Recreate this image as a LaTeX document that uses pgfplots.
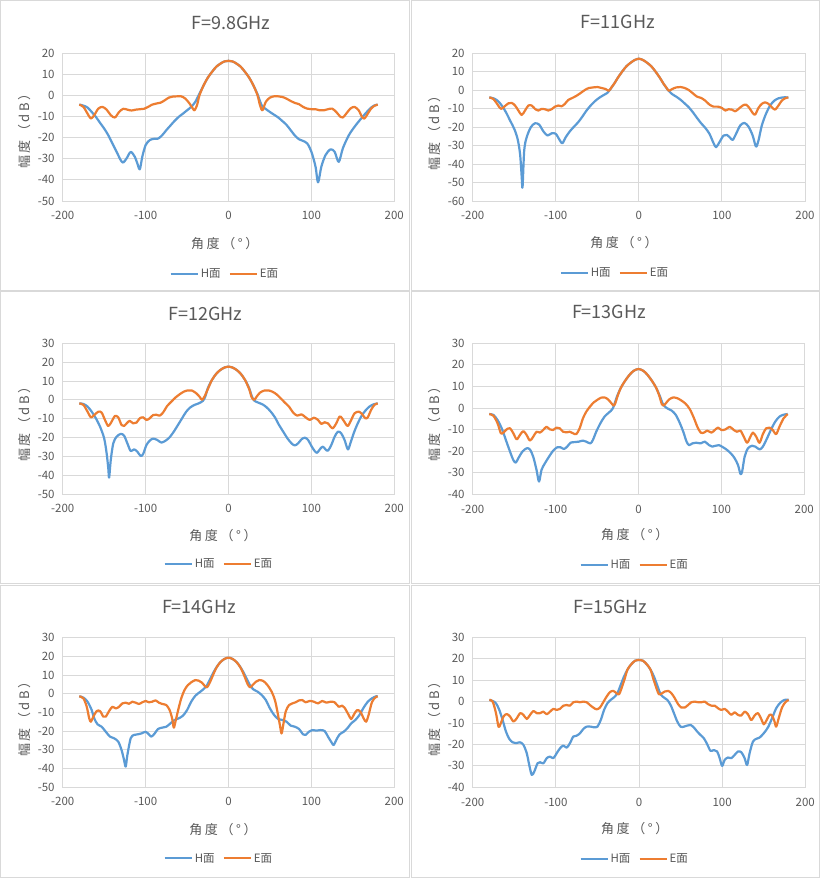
\documentclass[border=0pt]{standalone}
\usepackage{pgfplots}
\pgfplotsset{compat=1.18}
\usepackage{fontspec}
\setmainfont{Noto Sans CJK SC}
\newfontfamily\labfont[LetterSpace=20]{Noto Sans CJK SC}
\definecolor{hblue}{HTML}{5B9BD5}
\definecolor{eorange}{HTML}{ED7D31}
\definecolor{gridc}{HTML}{D9D9D9}
\definecolor{labc}{HTML}{595959}
\pgfplotsset{
 panel/.style={
  scale only axis, anchor=south west,
  xmin=-200, xmax=200, xtick={-200,-100,0,100,200},
  xticklabels={-200,-100,0,100,200},
  grid=major, major grid style={draw=gridc, line width=0.9pt},
  axis line style={draw=gridc, line width=0.9pt},
  major tick length=0pt,
  tick label style={font=\fontsize{11.5}{13}\selectfont, text=labc},
  xticklabel style={yshift=-7pt},
  yticklabel style={xshift=-4.6pt},
  legend columns=2,
  legend style={draw=none, fill=none, anchor=center, font=\fontsize{11.5}{13}\selectfont, text=labc,
    /tikz/every even column/.append style={column sep=6pt}},
  legend image code/.code={\draw[##1] (0pt,0pt) -- (27pt,0pt);},
  every axis plot/.append style={line width=2.2pt, line join=round, smooth, tension=0.5},
 },
 hs/.style={hblue}, es/.style={eorange},
}
\newcommand{\ttl}[2]{\node[font=\fontsize{18}{20}\selectfont, text=labc] at #1 {#2};}
\newcommand{\xlab}[1]{\node[font=\labfont\fontsize{13}{15}\selectfont, text=labc] at #1 {角度（°）};}
\newcommand{\ylab}[1]{\node[font=\labfont\fontsize{13}{15}\selectfont, text=labc, rotate=90] at #1 {幅度（dB）};}
\begin{document}
\begin{tikzpicture}
\path[use as bounding box, fill=white] (0pt,0pt) rectangle (821pt,879pt);
\begin{scope}[draw=gridc, line width=1pt]
\draw (0.5pt,588.5pt) rectangle (409.5pt,878.5pt);
\draw (411pt,588.5pt) rectangle (819.5pt,878.5pt);
\draw (0.5pt,295pt) rectangle (409.5pt,587pt);
\draw (411pt,295pt) rectangle (819.5pt,587pt);
\draw (0.5pt,1pt) rectangle (409.5pt,293pt);
\draw (411pt,1pt) rectangle (819.5pt,293pt);
\end{scope}
% ---------- Panel 1
\begin{axis}[panel, at={(62.7pt,678pt)}, width=331.6pt, height=148pt,
  ymin=-50, ymax=20, ytick={-50,-40,-30,-20,-10,0,10,20},
  yticklabels={-50,-40,-30,-20,-10,0,10,20},
  legend style={at={(0.489,-0.493)}}]
\addplot[hs] coordinates {(-180,-4.4)(-175,-4.9)(-170,-5.8)(-165,-7.9)(-160,-10.2)(-155,-13)(-150,-15.7)(-145,-18.9)(-140,-22.8)(-135,-26.7)(-130,-30.7)(-127,-31.8)(-123,-29.9)(-118,-26.8)(-113,-29.1)(-110,-32.2)(-107,-35)(-104,-29.1)(-100,-23.6)(-95,-21.2)(-90,-20.6)(-85,-20.5)(-80,-18.9)(-75,-16.5)(-70,-14.3)(-65,-12.1)(-60,-10.2)(-55,-8.7)(-50,-7.1)(-45,-5.5)(-40,-3.1)(-35,0.8)(-30,4.7)(-25,8.3)(-20,11)(-15,13.4)(-10,14.9)(-5,16)(0,16.3)(5,16)(10,14.9)(15,13.4)(20,11)(25,8.3)(30,4.7)(35,0.5)(40,-4.7)(45,-6.5)(50,-7.9)(55,-9.2)(60,-10.5)(65,-12.2)(70,-14)(75,-16.5)(80,-19)(85,-20.8)(90,-21.6)(95,-22.8)(100,-26.7)(105,-33.8)(108,-41.2)(112,-33.8)(117,-28.3)(123,-25.6)(128,-26.7)(133,-31.5)(138,-25)(145,-19)(150,-16)(155,-13.4)(160,-11)(165,-8.7)(172,-5.8)(176,-4.8)(180,-4.4)};
\addplot[es] coordinates {(-180,-4.4)(-175,-5.5)(-170,-8.7)(-166,-11)(-162,-9.4)(-157,-6.3)(-152,-5.5)(-147,-6.8)(-142,-9.4)(-137,-10.5)(-132,-7.9)(-127,-6.4)(-122,-6.8)(-117,-7.2)(-112,-6.8)(-107,-6.6)(-102,-6.4)(-97,-5.5)(-92,-4.4)(-87,-3.9)(-82,-3.5)(-77,-2.4)(-72,-1.1)(-67,-0.6)(-62,-0.5)(-57,-0.5)(-52,-1.6)(-47,-3.9)(-43,-6.3)(-41,-7.1)(-38,-4.7)(-35,0)(-30,4.7)(-25,8.3)(-20,11)(-15,13.4)(-10,14.9)(-5,16)(0,16.3)(5,16)(10,14.9)(15,13.4)(20,11)(25,8.3)(30,4.7)(35,0)(38,-4.7)(41,-7.1)(45,-3.1)(50,-1.1)(55,-0.5)(60,-0.5)(65,-0.8)(70,-1.6)(75,-2.7)(80,-3.6)(85,-4.2)(90,-5.5)(95,-6.3)(100,-6.6)(105,-6.6)(110,-7.1)(115,-7.1)(120,-6.6)(125,-6.3)(130,-7.9)(135,-10.2)(138,-10.5)(142,-8.7)(147,-6.3)(152,-5.5)(157,-7.1)(161,-10.2)(164,-11)(168,-8.7)(172,-6.3)(176,-5)(180,-4.4)};
\legend{H面,E面}
\end{axis}
\ttl{(231pt,855.7pt)}{F=9.8GHz}
\xlab{(224.7pt,635.7pt)}
\ylab{(25pt,751pt)}
% ---------- Panel 2
\begin{axis}[panel, at={(472.7pt,678pt)}, width=332.3pt, height=148pt,
  ymin=-60, ymax=20, ytick={-60,-50,-40,-30,-20,-10,0,10,20},
  yticklabels={-60,-50,-40,-30,-20,-10,0,10,20},
  legend style={at={(0.428,-0.484)}}]
\addplot[hs] coordinates {(-180,-4)(-175,-4.5)(-170,-5.8)(-165,-8.4)(-160,-12)(-155,-16.5)(-150,-21)(-146,-26.4)(-143,-34.5)(-141,-47)(-140,-52.5)(-138,-32.7)(-135,-25.5)(-130,-20.1)(-125,-18)(-120,-18.7)(-115,-22.3)(-110,-24.6)(-105,-23.4)(-100,-23.7)(-95,-27.3)(-92,-28.8)(-88,-25.5)(-83,-22.3)(-78,-19.8)(-73,-17.4)(-68,-14.4)(-63,-11.1)(-58,-8.4)(-53,-6.1)(-48,-4.3)(-43,-2.9)(-38,-1.6)(-35,0)(-30,3.2)(-25,6.8)(-20,10)(-15,12.8)(-10,14.7)(-5,16.2)(0,16.9)(5,16.2)(10,14.7)(15,12.8)(20,10)(25,6.8)(30,3.2)(35,0)(40,-2.2)(45,-3.6)(50,-5.2)(55,-7.2)(60,-9.3)(65,-12)(70,-15.1)(75,-18)(80,-20.5)(85,-23.7)(90,-28.8)(93,-30.9)(97,-28.2)(102,-24.6)(106,-24.3)(110,-25.9)(113,-27)(117,-23.7)(122,-19.2)(127,-17.8)(132,-19.8)(137,-24.6)(141,-30.6)(144,-27.3)(148,-19.2)(153,-12.9)(158,-8.4)(163,-5.8)(168,-4.5)(173,-4)(180,-4)};
\addplot[es] coordinates {(-180,-4)(-175,-4.9)(-170,-7.9)(-166,-10.2)(-162,-9)(-157,-7.2)(-153,-7)(-149,-8.4)(-145,-11.1)(-141,-13.5)(-137,-11.1)(-133,-8.4)(-129,-8.4)(-125,-10.2)(-121,-11.1)(-117,-10.2)(-113,-10.4)(-109,-11.1)(-105,-10.4)(-101,-9)(-97,-8.4)(-93,-8.8)(-89,-7.5)(-85,-5.4)(-80,-4.3)(-75,-3.1)(-70,-1.6)(-65,0)(-60,1.1)(-55,1.4)(-50,1.6)(-45,1.1)(-40,0.5)(-36,-0.4)(-33,1.4)(-30,3.2)(-25,6.8)(-20,10)(-15,12.8)(-10,14.7)(-5,16.2)(0,16.9)(5,16.2)(10,14.7)(15,12.8)(20,10)(25,6.8)(30,3.2)(33,1.4)(36,-0.4)(40,0.5)(45,1.4)(50,1.6)(55,1.1)(60,0)(65,-1.8)(70,-3.6)(75,-4.3)(80,-5.8)(85,-7.9)(90,-9)(95,-9)(100,-9.7)(104,-11.1)(108,-10.4)(112,-10.6)(116,-11.5)(120,-10.2)(125,-8.4)(129,-7.9)(133,-9.7)(137,-12.4)(140,-13.3)(144,-9.7)(148,-7.5)(152,-6.7)(156,-7.5)(160,-9.3)(164,-10.6)(168,-8.4)(172,-5.8)(176,-4.5)(180,-4)};
\legend{H面,E面}
\end{axis}
\ttl{(617.7pt,857pt)}{F=11GHz}
\xlab{(624pt,636pt)}
\ylab{(435pt,749pt)}
% ---------- Panel 3
\begin{axis}[panel, at={(62.7pt,385pt)}, width=331.6pt, height=150.7pt,
  ymin=-50, ymax=30, ytick={-50,-40,-30,-20,-10,0,10,20,30},
  yticklabels={-50,-40,-30,-20,-10,0,10,20,30},
  legend style={at={(0.471,-0.466)}}]
\addplot[hs] coordinates {(-180,-1.9)(-175,-2.2)(-170,-3.6)(-165,-6.3)(-160,-9.8)(-155,-14.2)(-150,-20.4)(-147,-28.4)(-145,-36.4)(-144,-41.3)(-142,-31.9)(-139,-23.1)(-135,-19.6)(-130,-18.1)(-126,-19)(-122,-23.1)(-118,-27.2)(-114,-26.3)(-110,-27.5)(-106,-29.8)(-103,-28.8)(-99,-24)(-95,-21.7)(-91,-20.6)(-86,-21.3)(-81,-22.7)(-76,-21.7)(-71,-19.9)(-66,-16.9)(-61,-13.4)(-56,-9.8)(-51,-6.3)(-46,-4)(-41,-2.7)(-36,-1.9)(-31,-0.6)(-28,1.7)(-25,6.1)(-20,10.5)(-15,13.7)(-10,15.8)(-5,17.1)(0,17.6)(5,17.1)(10,15.8)(15,13.7)(20,10.5)(25,6.1)(28,2)(31,-0.4)(36,-1.5)(41,-2.4)(46,-4)(51,-6.3)(56,-9.3)(61,-13.4)(66,-16.9)(71,-20.4)(76,-23.1)(80,-24.2)(84,-23.1)(88,-21)(92,-20.1)(96,-21.3)(100,-24.5)(104,-27.2)(107,-28.1)(111,-25.8)(114,-24.9)(117,-26.3)(120,-27)(124,-24)(128,-19.6)(132,-16.9)(136,-17.8)(140,-21.3)(144,-26.3)(147,-23.1)(151,-17.8)(155,-13.4)(160,-8.9)(165,-5.8)(170,-3.6)(175,-2.4)(180,-1.9)};
\addplot[es] coordinates {(-180,-1.9)(-175,-2.7)(-170,-6.3)(-166,-9.3)(-162,-8.1)(-157,-6.3)(-153,-6.8)(-149,-10.7)(-145,-13.9)(-141,-11.6)(-137,-8.6)(-133,-9.3)(-129,-13.4)(-126,-13.9)(-122,-12.1)(-119,-11.2)(-115,-12.5)(-111,-12.1)(-107,-9.8)(-103,-9.3)(-99,-10.7)(-95,-9.8)(-91,-8.1)(-87,-7.9)(-83,-8.4)(-79,-6.8)(-74,-3.3)(-69,-1)(-64,1.2)(-59,2.9)(-54,4.3)(-49,5)(-44,4.9)(-39,3.5)(-35,1.7)(-32,0)(-29,1.7)(-25,5.6)(-20,10.5)(-15,13.7)(-10,15.8)(-5,17.1)(0,17.6)(5,17.1)(10,15.8)(15,13.7)(20,10.5)(25,5.6)(28,1.3)(31,0)(34,1.7)(38,3.8)(43,4.9)(48,5)(53,4.3)(58,2.9)(63,0.8)(68,-1.5)(73,-3.6)(78,-6.8)(83,-8.4)(88,-7.7)(93,-9.3)(98,-10.7)(103,-9.5)(108,-10.7)(112,-12.8)(116,-11.9)(120,-12.5)(123,-14.2)(126,-15.1)(130,-12.5)(134,-8.9)(137,-9.8)(141,-12.5)(144,-13.9)(148,-10.7)(152,-7.2)(157,-6.3)(161,-7.5)(165,-9.8)(168,-9.3)(172,-5.4)(176,-2.7)(180,-1.9)};
\legend{H面,E面}
\end{axis}
\ttl{(205.5pt,565pt)}{F=12GHz}
\xlab{(223pt,343.3pt)}
\ylab{(25pt,458pt)}
% ---------- Panel 4
\begin{axis}[panel, at={(472.7pt,384.7pt)}, width=331.6pt, height=151pt,
  ymin=-40, ymax=30, ytick={-40,-30,-20,-10,0,10,20,30},
  yticklabels={-40,-30,-20,-10,0,10,20,30},
  legend style={at={(0.4885,-0.468)}}]
\addplot[hs] coordinates {(-180,-2.8)(-175,-3.2)(-170,-5.6)(-165,-9.4)(-160,-14.8)(-155,-20.2)(-151,-24.1)(-148,-25.3)(-145,-23.3)(-140,-20.2)(-135,-18.7)(-131,-19.2)(-127,-22.6)(-123,-28.7)(-120,-34.1)(-117,-28.7)(-113,-25.7)(-108,-22.6)(-103,-19.8)(-98,-18.2)(-94,-18.2)(-90,-19)(-86,-17.9)(-82,-16.1)(-77,-15.8)(-72,-15.6)(-67,-15.1)(-63,-15.6)(-58,-16.4)(-55,-14.8)(-51,-11)(-46,-7.1)(-41,-4)(-36,-2.2)(-31,-0.2)(-26,5.3)(-21,9.6)(-16,12.7)(-11,15.3)(-6,17.2)(0,18.1)(6,17.2)(11,15.3)(16,12.7)(21,9.6)(26,5.3)(30,1.4)(35,-0.2)(40,-1.2)(45,-3.2)(50,-7.1)(54,-11)(58,-15.6)(61,-17.2)(65,-16.4)(70,-16.1)(75,-16.4)(80,-15.6)(85,-17.2)(89,-17.9)(93,-17.5)(97,-17.2)(102,-18.2)(107,-19.5)(112,-21.3)(116,-23.3)(120,-26.4)(123,-30.6)(125,-29.5)(128,-22.6)(132,-18.7)(137,-17.5)(141,-17.9)(146,-19.2)(150,-17.9)(155,-14.1)(160,-9.9)(165,-6.3)(170,-4)(175,-3.1)(180,-2.8)};
\addplot[es] coordinates {(-180,-2.8)(-175,-3.6)(-170,-7.1)(-166,-11.7)(-163,-11.4)(-159,-9.9)(-155,-9.4)(-151,-11.7)(-147,-14.5)(-143,-12.5)(-139,-10.7)(-135,-12.5)(-131,-15.1)(-127,-13.3)(-123,-11)(-119,-11.4)(-115,-10.2)(-111,-8.7)(-107,-9.9)(-103,-10.2)(-99,-9.1)(-95,-9.4)(-91,-11)(-87,-11.3)(-83,-11)(-79,-11.7)(-75,-12.1)(-71,-9.4)(-67,-4.8)(-63,-1.7)(-58,0.9)(-54,2.6)(-50,3.7)(-45,4.8)(-40,4.8)(-36,3.7)(-32,1.9)(-30,1.1)(-28,2.2)(-25,5.8)(-21,9.6)(-16,12.7)(-11,15.3)(-6,17.2)(0,18.1)(6,17.2)(11,15.3)(16,12.7)(21,9.6)(25,5.8)(28,1.9)(30,1.1)(33,2.2)(37,4)(42,4.9)(47,4.5)(52,3.4)(57,1.9)(62,-0.6)(67,-4.8)(71,-8.7)(75,-11.4)(79,-11.4)(83,-10.5)(88,-11.4)(92,-10.2)(96,-9.1)(100,-10.2)(105,-9.9)(110,-8.7)(115,-10.2)(119,-11)(123,-10.5)(127,-13.3)(131,-16.1)(135,-13.3)(138,-11.4)(142,-13.3)(146,-16.1)(150,-12.1)(154,-9.4)(158,-9.1)(162,-10.2)(166,-12.1)(170,-8.7)(175,-4.8)(180,-2.8)};
\legend{H面,E面}
\end{axis}
\ttl{(609pt,567pt)}{F=13GHz}
\xlab{(634.7pt,344pt)}
\ylab{(435pt,458pt)}
% ---------- Panel 5
\begin{axis}[panel, at={(62.7pt,92pt)}, width=331.6pt, height=149.3pt,
  ymin=-50, ymax=30, ytick={-50,-40,-30,-20,-10,0,10,20,30},
  yticklabels={-50,-40,-30,-20,-10,0,10,20,30},
  legend style={at={(0.471,-0.478)}}]
\addplot[hs] coordinates {(-180,-1.4)(-175,-2.1)(-170,-4.3)(-165,-8.8)(-162,-13.2)(-158,-16.4)(-153,-17.7)(-148,-20.4)(-143,-23)(-138,-23.9)(-133,-25.7)(-129,-30.2)(-126,-35.5)(-124,-39.1)(-122,-32.9)(-118,-23.9)(-114,-22.1)(-110,-21.8)(-105,-21.3)(-100,-20.4)(-96,-21.8)(-93,-23)(-89,-21.3)(-85,-18.9)(-80,-18.2)(-75,-17.7)(-70,-15.9)(-65,-14.1)(-60,-13.2)(-55,-11.8)(-50,-8.8)(-45,-4.3)(-40,-1.1)(-35,0.7)(-30,2.5)(-26,4.5)(-22,8)(-18,11.5)(-14,14.5)(-10,16.8)(-5,18.6)(0,19.3)(5,18.6)(10,16.8)(14,14.5)(18,11.5)(22,8)(26,4.5)(30,2.3)(35,1.1)(40,-0.7)(45,-3.4)(50,-7.9)(55,-11.4)(60,-13.6)(65,-14.1)(70,-15)(75,-17.1)(80,-17.7)(85,-18.9)(90,-21.8)(93,-22.1)(97,-20.4)(101,-19.5)(106,-19.8)(111,-19.5)(116,-20)(120,-23)(125,-26.6)(127,-27.5)(130,-24.8)(134,-21.8)(139,-20.4)(144,-18.2)(148,-15.9)(153,-14.1)(158,-11.4)(163,-7.5)(168,-4.3)(173,-2.5)(178,-1.4)(180,-1.4)};
\addplot[es] coordinates {(-180,-1.4)(-175,-2.5)(-171,-7)(-168,-13.2)(-166,-15)(-163,-12.3)(-159,-9.3)(-155,-9.3)(-151,-12.3)(-148,-12.3)(-144,-9.3)(-140,-7)(-136,-7.9)(-132,-7)(-128,-5.2)(-124,-4.8)(-120,-5.4)(-116,-4.3)(-112,-4.8)(-108,-5.5)(-104,-4.6)(-100,-3.9)(-96,-4.6)(-92,-4.3)(-88,-3.6)(-84,-4.8)(-80,-5.5)(-75,-6.1)(-71,-8.8)(-68,-13.2)(-66,-18.2)(-64,-15)(-61,-9.3)(-57,-2.5)(-53,2)(-49,4.6)(-45,6.1)(-40,7.3)(-36,7)(-32,5.9)(-28,3.8)(-26,3.4)(-23,5.5)(-19,9.6)(-15,13.6)(-10,16.8)(-5,18.6)(0,19.3)(5,18.6)(10,16.8)(15,13.6)(19,9.6)(23,5.2)(26,3.4)(29,4.6)(33,6.4)(37,7.3)(42,6.8)(47,4.6)(52,1.1)(56,-3.4)(59,-9.6)(62,-16.8)(64,-21.3)(66,-16.8)(69,-9.6)(73,-6.1)(77,-5.2)(81,-4.6)(85,-3.6)(89,-3.4)(93,-4.6)(98,-3.9)(103,-4.3)(108,-5.2)(113,-3.9)(118,-4.8)(123,-4.3)(128,-4.6)(133,-7)(137,-6.4)(140,-7.5)(145,-11.4)(148,-13.6)(151,-11.4)(155,-8.8)(159,-9.6)(163,-13.2)(166,-15)(169,-11.4)(173,-4.6)(177,-2.1)(180,-1.4)};
\legend{H面,E面}
\end{axis}
\ttl{(199pt,272pt)}{F=14GHz}
\xlab{(223pt,49pt)}
\ylab{(25pt,163pt)}
% ---------- Panel 6
\begin{axis}[panel, at={(472.7pt,91.7pt)}, width=332.6pt, height=150pt,
  ymin=-40, ymax=30, ytick={-40,-30,-20,-10,0,10,20,30},
  yticklabels={-40,-30,-20,-10,0,10,20,30},
  legend style={at={(0.487,-0.478)}}]
\addplot[hs] coordinates {(-180,0.8)(-176,0.3)(-172,-0.8)(-168,-3.9)(-164,-8.6)(-160,-14)(-156,-17.4)(-152,-19)(-148,-19.4)(-143,-19)(-139,-20.2)(-135,-24.1)(-132,-29.6)(-129,-34.2)(-126,-32.7)(-122,-28.8)(-119,-28.3)(-115,-28.8)(-111,-26.4)(-107,-25.7)(-103,-26.4)(-99,-24.1)(-95,-21.8)(-91,-20.5)(-87,-21.5)(-83,-19.4)(-79,-16.3)(-75,-15.9)(-71,-14.8)(-67,-12.8)(-63,-11.7)(-58,-11.7)(-54,-12)(-50,-11.7)(-46,-8.6)(-42,-3.9)(-38,-0.8)(-34,0.8)(-30,2)(-26,3.9)(-22,7.8)(-18,11.7)(-14,14.8)(-10,17.1)(-5,19)(0,19.4)(5,19)(10,17.1)(14,14.8)(18,11.7)(22,7.5)(26,3.4)(30,1.9)(34,0.8)(38,-1.6)(42,-5.4)(46,-9.3)(50,-11.7)(54,-11.7)(58,-11.2)(62,-10.9)(66,-12.1)(70,-14)(74,-15.6)(78,-17.1)(82,-19.9)(86,-23)(90,-22.6)(94,-23.3)(97,-26.4)(100,-30)(103,-27.2)(107,-26.1)(111,-26.4)(115,-24.9)(119,-23.3)(123,-23.6)(127,-26.4)(130,-29.6)(133,-24.1)(137,-18.7)(141,-17.4)(145,-16.8)(150,-14.8)(155,-12.1)(160,-7.8)(165,-3.1)(170,-0.5)(175,0.8)(180,0.8)};
\addplot[es] coordinates {(-180,0.8)(-176,0)(-172,-5.4)(-169,-11.7)(-167,-10.9)(-163,-7)(-159,-5.8)(-155,-7)(-151,-9.3)(-147,-7.8)(-143,-5.4)(-139,-6.2)(-135,-8.1)(-131,-6.2)(-127,-4.4)(-123,-5.4)(-119,-5.4)(-115,-4.7)(-111,-5.9)(-107,-4.7)(-103,-3.4)(-99,-3.9)(-95,-3.4)(-91,-1.9)(-87,-1.6)(-83,-1.9)(-79,-0.3)(-75,0)(-71,-0.3)(-67,0)(-63,-0.3)(-59,-1.6)(-55,-2.8)(-51,-3.6)(-47,-2.8)(-43,-0.3)(-39,2.3)(-35,4.4)(-31,5)(-27,3.9)(-24,3.4)(-21,6.2)(-17,10.9)(-14,14.8)(-10,17.1)(-5,19)(0,19.4)(5,19)(10,17.1)(14,14.8)(17,10.9)(21,6.2)(24,3.4)(27,3.7)(31,4.7)(35,5)(39,3.9)(43,1.6)(47,-1.2)(51,-2.8)(55,-2.8)(59,-1.6)(63,-0.3)(67,0)(71,-0.3)(75,-0.3)(79,0)(83,-1.2)(87,-1.9)(91,-1.9)(95,-3.1)(99,-3.9)(103,-3.4)(107,-4.7)(111,-6.2)(115,-5)(119,-6.2)(123,-6.5)(127,-4.7)(131,-5.9)(135,-8.6)(139,-6.5)(143,-5.4)(147,-8.1)(150,-10.6)(153,-9)(157,-6.2)(160,-6.5)(163,-9.3)(165,-11.7)(168,-7.8)(172,-2.8)(176,-0.3)(180,0.8)};
\legend{H面,E面}
\end{axis}
\ttl{(610.5pt,272pt)}{F=15GHz}
\xlab{(634.7pt,50.7pt)}
\ylab{(435pt,163pt)}
\end{tikzpicture}
\end{document}
